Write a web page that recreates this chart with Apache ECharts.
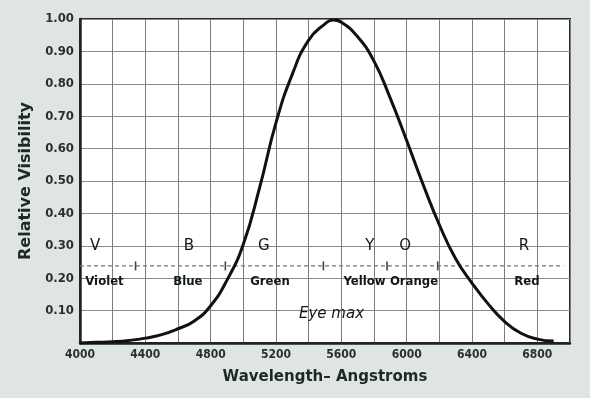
<!DOCTYPE html>
<html>
<head>
<meta charset="utf-8">
<script src="https://cdn.jsdelivr.net/npm/echarts@6/dist/echarts.min.js"></script>
<style>
  html, body { margin: 0; padding: 0; background: #dfe6e2; }
  #chartmain { width: 590px; height: 398px; }
</style>
</head>
<body>
<div id="chartmain"></div>
<script>
// 曲线数据（波长 Å, 相对视见度）
const wavelengths = [4000, 4100, 4200, 4300, 4400, 4500, 4600, 4700, 4800, 4900, 5000, 5100, 5200, 5300, 5400,
    5500, 5550, 5600, 5700, 5800, 5900, 6000, 6100, 6200, 6300, 6400, 6500, 6600, 6700, 6800, 6900];
const visibility = [0.000, 0.002, 0.004, 0.008, 0.015, 0.026, 0.044, 0.068, 0.115, 0.194, 0.305, 0.480, 0.680, 0.830, 0.935,
    0.985, 0.997, 0.990, 0.945, 0.870, 0.755, 0.625, 0.490, 0.365, 0.260, 0.185, 0.120, 0.066, 0.030, 0.012, 0.006];

// 色带标注
const letters = ['V', 'B', 'G', 'Y', 'O', 'R'];
const letterPos = [4092, 4667, 5126, 5775, 5990, 6718];
const letterLevel = 0.30;
const colorNames = ['Violet', 'Blue', 'Green', 'Yellow', 'Orange', 'Red'];
const namePos = [4150, 4661, 5163, 5742, 6045, 6736];
const nameLevel = 0.19;
const bandBounds = [4340, 4890, 5490, 5880, 6190];
const bandSpan = [4000, 6960];
const bandLevel = 0.238;
const eyeMax = [5540, 0.09];

const xTickStep = 400;

{
    const DOM = { chart: document.getElementById('chartmain') };
    const chart = echarts.init(DOM.chart);
    const ink = '#111a15';

    // 透明散点，只用来放文字
    function textSeries(name, data, label) {
        return {
            name: name, type: 'scatter', silent: true, symbolSize: 0,
            data: data,
            itemStyle: { opacity: 1, color: ink },
            label: Object.assign({
                show: true, position: 'inside', formatter: '{b}', opacity: 1,
                textBorderWidth: 0, textBorderColor: 'transparent'
            }, label),
            z: 6
        };
    }

    const option = {
        backgroundColor: '#dfe6e2',
        animation: false,
        grid: {
            left: 80, right: 20, top: 19, bottom: 55,
            show: true, backgroundColor: '#ffffff',
            borderColor: '#2a2a2a', borderWidth: 2,
            outerBoundsMode: 'none'
        },
        xAxis: {
            type: 'value', min: 4000, max: 7000, interval: 200,
            name: 'Wavelength\u2013 Angstroms', nameLocation: 'middle', nameGap: 27,
            nameTextStyle: { color: '#1d2a24', fontSize: 15, fontFamily: 'DejaVu Sans', fontWeight: 'bold' },
            axisLine: { show: true, lineStyle: { color: '#222', width: 2.5 } },
            axisTick: { show: false },
            axisLabel: {
                color: '#2b302d', fontSize: 12, fontWeight: 'bold', fontFamily: 'DejaVu Sans Condensed', margin: 6,
                formatter: function (v) { return (v - 4000) % xTickStep === 0 && v < 7000 ? String(v) : ''; }
            },
            splitLine: { show: true, lineStyle: { color: '#7d7d7d', width: 1 } }
        },
        yAxis: {
            type: 'value', min: 0, max: 1, interval: 0.1,
            name: 'Relative Visibility', nameLocation: 'middle', nameGap: 46,
            nameTextStyle: { color: '#1d2a24', fontSize: 16, fontFamily: 'DejaVu Sans', fontWeight: 'bold' },
            axisLine: { show: true, lineStyle: { color: '#222', width: 2.5 } },
            axisTick: { show: false },
            axisLabel: {
                color: '#2b302d', fontSize: 13, fontWeight: 'bold', fontFamily: 'DejaVu Sans Condensed', margin: 6,
                formatter: function (v) { return v === 0 ? '' : v.toFixed(2); }
            },
            splitLine: { show: true, lineStyle: { color: '#8a8a8a', width: 1 } }
        },
        series: [
            {
                name: 'band', type: 'line', silent: true, symbol: 'none',
                data: bandSpan.map(function (x) { return [x, bandLevel]; }),
                lineStyle: { color: '#777', width: 1.2, type: [4, 3] },
                z: 3
            },
            {
                name: 'bounds', type: 'scatter', silent: true,
                symbol: 'rect', symbolSize: [1.6, 9],
                data: bandBounds.map(function (x) { return [x, bandLevel]; }),
                itemStyle: { color: '#444', opacity: 1 },
                z: 4
            },
            {
                name: 'curve', type: 'line', smooth: true, symbol: 'none',
                data: wavelengths.map(function (x, i) { return [x, visibility[i]]; }),
                lineStyle: { color: '#111', width: 3 },
                z: 5
            },
            textSeries('letters',
                letters.map(function (t, i) { return { value: [letterPos[i], letterLevel], name: t }; }),
                { color: ink, fontSize: 15, fontFamily: 'DejaVu Sans' }),
            textSeries('names',
                colorNames.map(function (t, i) { return { value: [namePos[i], nameLevel], name: t }; }),
                { color: ink, fontSize: 13, fontWeight: 'bold', fontFamily: 'DejaVu Sans Condensed' }),
            textSeries('eyemax',
                [{ value: eyeMax, name: 'Eye max' }],
                { color: ink, fontSize: 15, fontStyle: 'italic', fontFamily: 'DejaVu Sans' })
        ]
    };

    function init() {
        chart.setOption(option);
        window.addEventListener('resize', function () {
            chart.resize();
        });
    }

    init();
}
</script>
</body>
</html>
